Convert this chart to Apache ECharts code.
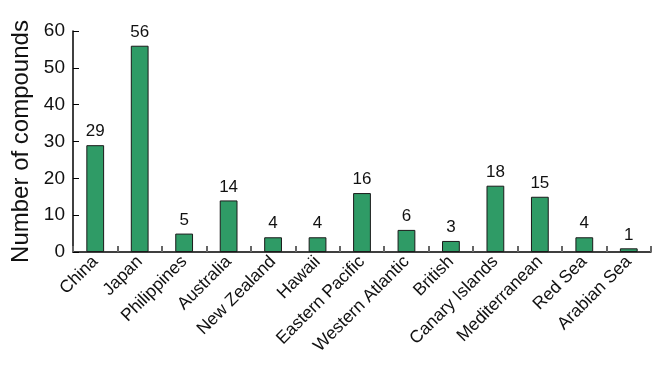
<!DOCTYPE html>
<html><head><meta charset="utf-8">
<script src="https://cdn.jsdelivr.net/npm/echarts@6/dist/echarts.min.js"></script>
<style>html,body{margin:0;padding:0;background:#fff}#c{width:668px;height:368px}</style>
</head><body><div id="c"></div>
<script>
var categories = ['China','Japan','Philippines','Australia','New Zealand','Hawaii','Eastern Pacific','Western Atlantic','British','Canary Islands','Mediterranean','Red Sea','Arabian Sea'];
var values = [29,56,5,14,4,4,16,6,3,18,15,4,1];
var yTicks = [0,10,20,30,40,50,60];
var chart = echarts.init(document.getElementById('c'), null, {renderer:'canvas'});
var font = 'Liberation Sans, Arial, Helvetica, sans-serif';
chart.setOption({
  animation:false,
  grid:{left:73,right:17,top:31,bottom:116},
  xAxis:{type:'category',data:categories,
    axisLine:{lineStyle:{color:'#000',width:1.5}},
    axisTick:{show:true,inside:true,length:6,interval:0,lineStyle:{color:'#666',width:2}},
    axisLabel:{rotate:45,fontFamily:font,fontSize:17.5,color:'#111',margin:7,interval:0}},
  yAxis:{type:'value',min:yTicks[0],max:yTicks[yTicks.length-1],interval:10,
    name:'Number of compounds',nameLocation:'middle',nameGap:39,
    nameTextStyle:{fontFamily:font,fontSize:24,color:'#111'},
    splitLine:{show:false},
    axisLine:{show:true,lineStyle:{color:'#000',width:1.5}},
    axisTick:{show:true,inside:true,length:6,lineStyle:{color:'#000'}},
    axisLabel:{fontFamily:font,fontSize:19,color:'#111',margin:8}},
  series:[{type:'bar',data:values,barWidth:'40%',
    itemStyle:{color:'#2f9b66',borderColor:'#1a1a1a',borderWidth:1},
    label:{show:true,position:'top',distance:5,fontFamily:font,fontSize:17,color:'#111'}}]
});
</script></body></html>
